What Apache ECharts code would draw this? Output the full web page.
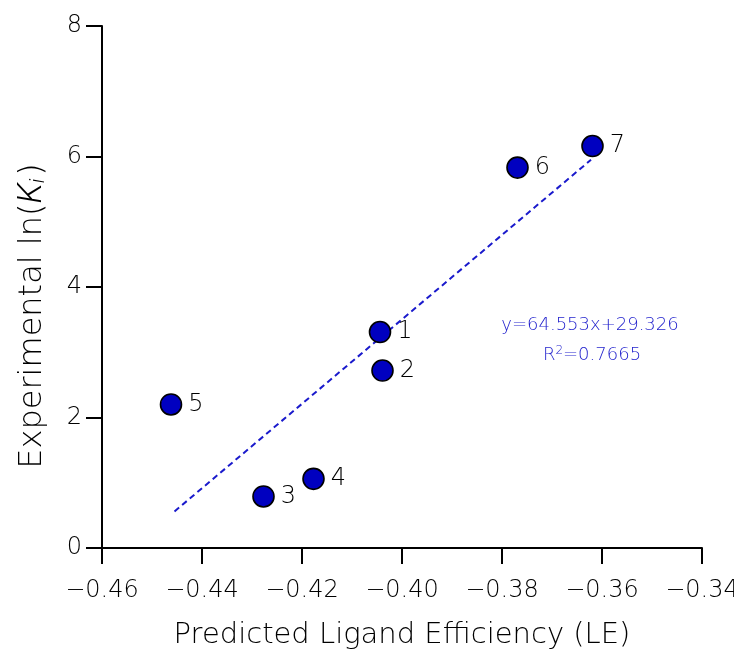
<!DOCTYPE html>
<html>
<head>
<meta charset="utf-8">
<script src="https://cdn.jsdelivr.net/npm/echarts@6/dist/echarts.min.js"></script>
<style>
html,body{margin:0;padding:0;background:#fff;overflow:hidden;}
#chart{width:734px;height:650px;}
</style>
</head>
<body>
<div id="chart"></div>
<script>
// Data
const compoundLabels = ['1', '2', '3', '4', '5', '6', '7'];
const predictedLE = [-0.4044, -0.4039, -0.4277, -0.4177, -0.4462, -0.3769, -0.3619];
const experimentalLnKi = [3.31, 2.72, 0.79, 1.06, 2.20, 5.83, 6.16];
const fitLine = [[-0.4455, 0.56], [-0.3622, 5.95]];
const fitEquation = 'y=64.553x+29.326';
const fitR2 = '0.7665';
const xTicks = [-0.46, -0.44, -0.42, -0.40, -0.38, -0.36, -0.34];
const yTicks = [0, 2, 4, 6, 8];

const FONT = '"DejaVu Sans"';
const IFONT = 'Roboto, "DejaVu Sans"';
const W = 200;
const TXT = '#000';
const BLUE = '#1e1ecc';
const points = predictedLE.map((x, i) => ({ value: [x, experimentalLnKi[i]], name: compoundLabels[i] }));

const chart = echarts.init(document.getElementById('chart'));
const option = {
  animation: false,
  backgroundColor: '#fff',
  textStyle: { fontFamily: FONT },
  grid: { left: 102, right: 32, top: 26, bottom: 102, containLabel: false, outerBoundsMode: 'none' },
  xAxis: {
    type: 'value',
    min: xTicks[0], max: xTicks[xTicks.length - 1], interval: 0.02,
    axisLine: { show: true, lineStyle: { color: '#000', width: 2 } },
    axisTick: { show: true, inside: false, length: 16, lineStyle: { color: '#000', width: 2 } },
    splitLine: { show: false },
    axisLabel: {
      margin: 31, fontSize: 24, color: TXT, fontFamily: FONT, fontWeight: W,
      formatter: v => (v < 0 ? '\u2212' : '') + Math.abs(v).toFixed(2)
    },
    name: 'Predicted Ligand Efficiency (LE)',
    nameLocation: 'middle', nameGap: 73,
    nameTextStyle: { fontSize: 29, color: TXT, fontFamily: FONT, fontWeight: W }
  },
  yAxis: {
    type: 'value',
    min: yTicks[0], max: yTicks[yTicks.length - 1], interval: 2,
    axisLine: { show: true, lineStyle: { color: '#000', width: 2 } },
    axisTick: { show: true, inside: false, length: 16, lineStyle: { color: '#000', width: 2 } },
    splitLine: { show: false },
    axisLabel: { margin: 20, fontSize: 24, color: TXT, fontFamily: FONT, fontWeight: W }
  },
  series: [
    {
      type: 'line',
      data: fitLine,
      symbol: 'none',
      z: 1,
      lineStyle: { color: '#1a1acc', width: 2, type: [6, 4] },
      silent: true
    },
    {
      type: 'scatter',
      data: points,
      symbol: 'circle',
      symbolSize: 21,
      z: 3,
      itemStyle: { color: '#0000c0', borderColor: '#000', borderWidth: 1.6, opacity: 1 },
      label: {
        show: true, position: 'right', distance: 6,
        formatter: p => p.name,
        fontSize: 24, color: TXT, fontFamily: FONT, fontWeight: W
      }
    }
  ],
  graphic: [
    {
      type: 'text', x: 33, y: 316, rotation: Math.PI / 2,
      style: {
        text: '{a|Experimental ln(}{b|K}{c|i}{a|)}',
        align: 'center', verticalAlign: 'middle',
        rich: {
          a: { fontSize: 32, fill: TXT, fontFamily: FONT, fontWeight: W },
          b: { fontSize: 33, fill: TXT, fontFamily: IFONT, fontWeight: 300, fontStyle: 'italic' },
          c: { fontSize: 21, fill: TXT, fontFamily: IFONT, fontWeight: 300, fontStyle: 'italic', padding: [12, 3, 0, 0] }
        }
      }
    },
    {
      type: 'text', x: 590, y: 325,
      style: {
        text: fitEquation, align: 'center', verticalAlign: 'middle',
        fill: BLUE, fontSize: 18, fontFamily: FONT, fontWeight: W
      }
    },
    {
      type: 'text', x: 592, y: 355,
      style: {
        text: '{a|R}{s|2}{a|=' + fitR2 + '}',
        align: 'center', verticalAlign: 'middle',
        rich: {
          a: { fill: BLUE, fontSize: 18, fontFamily: FONT, fontWeight: W },
          s: { fill: BLUE, fontSize: 12, fontFamily: FONT, fontWeight: W, padding: [0, 0, 9, 0] }
        }
      }
    }
  ]
};
chart.setOption(option);
</script>
</body>
</html>
